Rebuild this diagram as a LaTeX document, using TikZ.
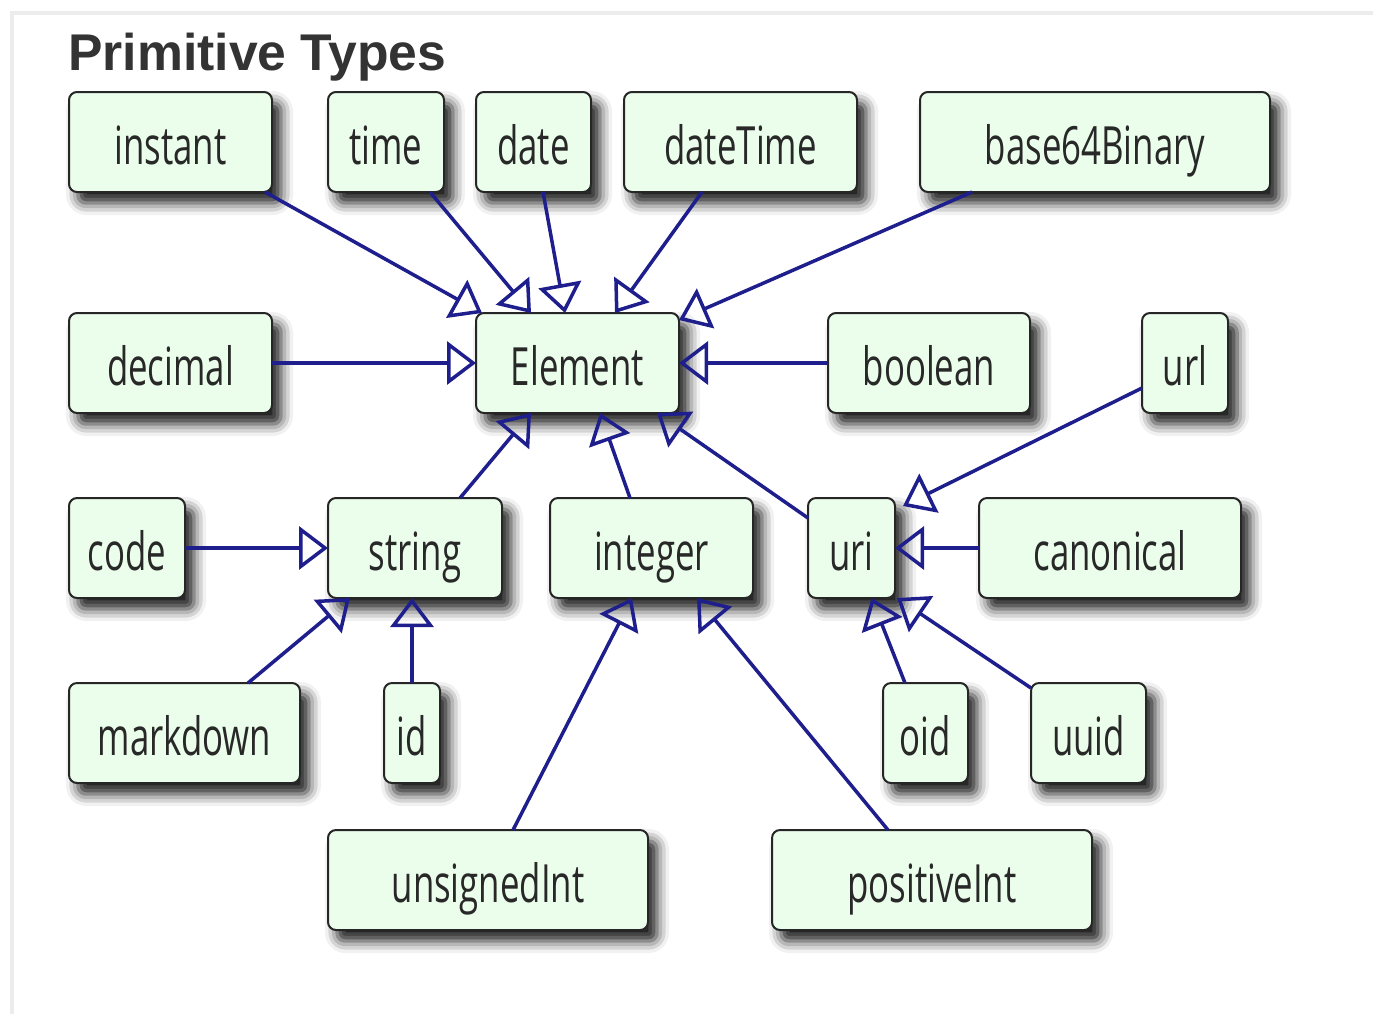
\documentclass[tikz,border=0pt]{standalone}
\usepackage{fontspec}
\usepackage{tikz}
\usetikzlibrary{arrows.meta, positioning, shadows.blur}
\newfontfamily\typefont[FakeStretch=0.66]{Open Sans}
\newfontfamily\headfont{Liberation Sans}
\newcommand{\tyfont}{\typefont\fontsize{30}{36}\selectfont\color{typeink}}
\definecolor{boxgreen}{RGB}{235,254,235}
\definecolor{typeink}{RGB}{40,40,40}
\definecolor{genblue}{RGB}{30,30,140}
\definecolor{framegray}{RGB}{236,236,236}
\definecolor{headgray}{RGB}{51,51,51}

\begin{document}
\begin{tikzpicture}[
    ty/.style={draw=black!85, line width=0.04cm, rounded corners=0.16cm, fill=boxgreen,
               minimum height=2cm, inner sep=0pt, outer sep=0pt, font=\tyfont,
               text height=1.2cm, text depth=0.32cm,
               blur shadow={shadow xshift=0.18cm, shadow yshift=-0.22cm,
                            shadow blur radius=0.24cm, shadow opacity=90}},
    gen/.style={-{Triangle[open, length=0.58cm, width=0.86cm]}, draw=genblue, line width=0.07cm},
]
\useasboundingbox (0,0) rectangle (27.46,-20.28);
\draw[framegray, line width=0.08cm] (0.24,-20.28) -- (0.24,-0.26) -- (27.46,-0.26);
\node[font=\headfont\bfseries\fontsize{29.4}{34}\selectfont, text=headgray, anchor=base west, inner sep=0pt]
    (title) at (1.36,-1.40) {Primitive Types};

\node[ty, minimum width=4.06cm, anchor=north west] (inst) at (1.38,-1.84) {instant};
\node[ty, minimum width=2.32cm, right=1.12cm of inst] (tm) {time};
\node[ty, minimum width=2.30cm, right=0.64cm of tm] (dt) {date};
\node[ty, minimum width=4.66cm, right=0.66cm of dt] (dtm) {dateTime};
\node[ty, minimum width=7.00cm, right=1.26cm of dtm] (b64) {base64Binary};

\node[ty, minimum width=4.06cm, below=2.42cm of inst.south west, anchor=north west] (dec) {decimal};
\node[ty, minimum width=4.06cm, right=4.08cm of dec] (elem) {Element};
\node[ty, minimum width=4.04cm, right=2.98cm of elem] (bool) {boolean};
\node[ty, minimum width=1.72cm, right=2.24cm of bool] (url) {url};

\node[ty, minimum width=2.32cm, below=1.7cm of dec.south west, anchor=north west] (code) {code};
\node[ty, minimum width=3.48cm, right=2.86cm of code] (str) {string};
\node[ty, minimum width=4.06cm, right=0.96cm of str] (int) {integer};
\node[ty, minimum width=1.74cm, right=1.10cm of int] (uri) {uri};
\node[ty, minimum width=5.24cm, right=1.68cm of uri] (canon) {canonical};

\node[ty, minimum width=4.62cm, below=1.7cm of code.south west, anchor=north west] (md) {markdown};
\node[ty, minimum width=1.12cm, right=1.68cm of md] (id) {id};
\node[ty, minimum width=1.70cm, right=8.86cm of id] (oid) {oid};
\node[ty, minimum width=2.30cm, right=1.26cm of oid] (uuid) {uuid};

\node[ty, minimum width=6.40cm, below=0.94cm of str.south west, anchor=north west, yshift=-3.7cm] (uint) {unsignedInt};
\node[ty, minimum width=6.40cm, right=2.48cm of uint] (pint) {positiveInt};

\draw[gen] ([xshift=-0.14cm]inst.south east) -- ([xshift=0.12cm]elem.north west);
\draw[gen] ([xshift=-0.28cm]tm.south east) -- ([xshift=1.10cm]elem.north west);
\draw[gen] ([xshift=0.19cm]dt.south) -- ([xshift=-0.25cm]elem.north);
\draw[gen] ([xshift=1.56cm]dtm.south west) -- ([xshift=0.75cm]elem.north);
\draw[gen] ([xshift=1.04cm]b64.south west) -- ([yshift=-0.14cm]elem.north east);
\draw[gen] (dec) -- (elem);
\draw[gen] (bool) -- (elem);
\draw[gen] ([xshift=0.90cm]str.north) -- ([xshift=1.10cm]elem.south west);
\draw[gen] ([xshift=-0.43cm]int.north) -- ([xshift=0.45cm]elem.south);
\draw[gen] ([yshift=-0.40cm]uri.north west) -- ([xshift=-0.44cm]elem.south east);
\draw[gen] ([yshift=0.50cm]url.south west) -- ([xshift=0.16cm, yshift=-0.16cm]uri.north east);
\draw[gen] (canon) -- (uri);
\draw[gen] ([xshift=-0.41cm]oid.north) -- ([xshift=0.40cm]uri.south);
\draw[gen] ([yshift=-0.10cm]uuid.north west) -- ([xshift=0.04cm]uri.south east);
\draw[gen] (code) -- (str);
\draw[gen] ([xshift=3.58cm]md.north west) -- ([xshift=0.44cm]str.south west);
\draw[gen] (id.north) -- (id.north |- str.south);
\draw[gen] ([xshift=0.50cm]uint.north) -- ([xshift=-0.39cm]int.south);
\draw[gen] ([xshift=-0.88cm]pint.north) -- ([xshift=0.91cm]int.south);
\end{tikzpicture}
\end{document}
